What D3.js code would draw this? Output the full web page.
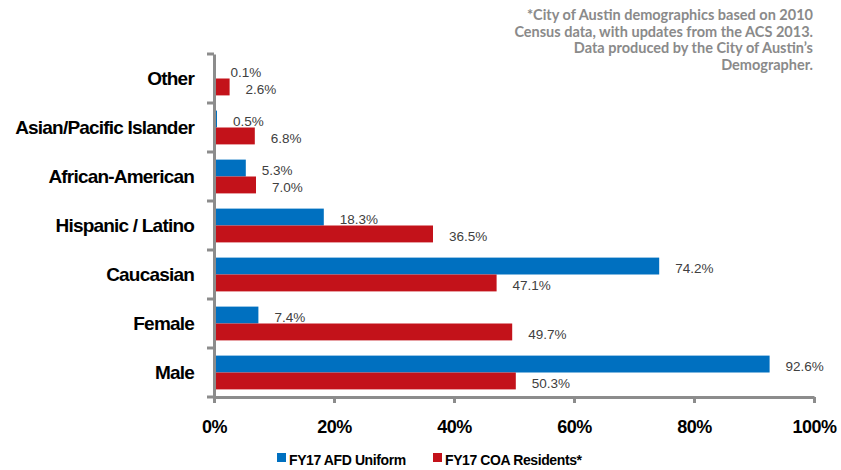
<!DOCTYPE html>
<html>
<head>
<meta charset="utf-8">
<script src="https://cdn.jsdelivr.net/npm/d3@7"></script>
<style>
  body { margin: 0; background: #fff; }
  svg { display: block; }
</style>
</head>
<body>
<svg width="841" height="470"></svg>
<script>

let categories = ['Other', 'Asian/Pacific Islander', 'African-American', 'Hispanic / Latino', 'Caucasian', 'Female', 'Male'];
let afdUniform = [0.1, 0.5, 5.3, 18.3, 74.2, 7.4, 92.6];
let coaResidents = [2.6, 6.8, 7.0, 36.5, 47.1, 49.7, 50.3];
let seriesNames = ['FY17 AFD Uniform', 'FY17 COA Residents*'];
let xTicks = [0, 20, 40, 60, 80, 100];
let footnote = ['*City of Austin demographics based on 2010', 'Census data, with updates from the ACS 2013.', 'Data produced by the City of Austin\u2019s', 'Demographer.'];

let svg = d3.select('svg');
let margin = { top: 54, right: 27, bottom: 73, left: 214 };
let width = +svg.attr('width');
let height = +svg.attr('height');

let colors = ['#0070c0', '#c3121a'];
let axisColor = '#8c8c8c';
let labelFont = '"Liberation Sans", Arial, sans-serif';

let x = d3.scaleLinear()
    .domain([0, 100])
    .range([margin.left, width - margin.right]);

let y = d3.scaleBand()
    .domain(categories)
    .range([margin.top, height - margin.bottom]);

let inner = d3.scaleBand()
    .domain([0, 1])
    .range([0, y.bandwidth()])
    .paddingOuter(0.45)
    .paddingInner(0);

let rows = categories.map((c, i) => ({ cat: c, vals: [afdUniform[i], coaResidents[i]] }));

let groups = svg.selectAll('g.row')
    .data(rows)
    .enter().append('g')
    .attr('class', 'row')
    .attr('transform', d => 'translate(0,' + y(d.cat) + ')');

groups.selectAll('rect')
    .data(d => d.vals)
    .enter().append('rect')
    .attr('x', x(0))
    .attr('y', (d, i) => inner(i))
    .attr('width', d => x(d) - x(0))
    .attr('height', inner.bandwidth())
    .style('fill', (d, i) => colors[i]);

groups.selectAll('text.val')
    .data(d => d.vals)
    .enter().append('text')
    .attr('class', 'val')
    .attr('x', d => x(d) + 16)
    .attr('y', (d, i) => inner(i) + inner.bandwidth() / 2 + 3)
    .attr('dominant-baseline', 'middle')
    .style('font-family', labelFont)
    .style('font-size', '13.5px')
    .style('fill', '#404040')
    .text(d => d.toFixed(1) + '%');

// y axis
let yAxis = svg.append('g')
    .attr('transform', 'translate(' + margin.left + ',0)')
    .call(d3.axisLeft(y).tickSize(0).tickPadding(20));
yAxis.select('.domain')
    .attr('stroke', axisColor)
    .attr('stroke-width', 3);
yAxis.selectAll('text')
    .style('font-family', labelFont)
    .style('font-weight', 'bold')
    .style('font-size', '19px')
    .style('letter-spacing', '-0.8px')
    .style('fill', '#000');
yAxis.selectAll('line.bound')
    .data(categories.concat(['end']))
    .enter().append('line')
    .attr('class', 'bound')
    .attr('x1', -7).attr('x2', 0)
    .attr('y1', (d, i) => margin.top + i * y.step())
    .attr('y2', (d, i) => margin.top + i * y.step())
    .attr('stroke', axisColor)
    .attr('stroke-width', 3);

// x axis
let xAxis = svg.append('g')
    .attr('transform', 'translate(0,' + (height - margin.bottom) + ')')
    .call(d3.axisBottom(x).tickValues(xTicks).tickSize(6).tickSizeOuter(0).tickPadding(17).tickFormat(d => d + '%'));
xAxis.select('.domain')
    .attr('stroke', axisColor)
    .attr('stroke-width', 3);
xAxis.selectAll('line')
    .attr('stroke', axisColor)
    .attr('stroke-width', 3);
xAxis.selectAll('text')
    .style('font-family', labelFont)
    .style('font-weight', 'bold')
    .style('font-size', '18px')
    .style('letter-spacing', '-0.5px')
    .style('fill', '#000');

// legend
let legendX = [277, 433];
let legend = svg.selectAll('g.legend')
    .data(seriesNames)
    .enter().append('g')
    .attr('class', 'legend')
    .attr('transform', (d, i) => 'translate(' + legendX[i] + ',453)');
legend.append('rect')
    .attr('width', 9)
    .attr('height', 9)
    .style('fill', (d, i) => colors[i]);
legend.append('text')
    .attr('x', 12)
    .attr('y', 12)
    .style('font-family', labelFont)
    .style('font-weight', 'bold')
    .style('font-size', '14px')
    .style('letter-spacing', '-0.4px')
    .style('fill', '#000')
    .text(d => d);

// footnote
svg.append('g')
    .selectAll('text')
    .data(footnote)
    .enter().append('text')
    .attr('x', 813)
    .attr('y', (d, i) => 20 + i * 16.7)
    .attr('text-anchor', 'end')
    .style('font-family', 'Lato, sans-serif')
    .style('font-weight', 'bold')
    .style('font-size', '14.5px')
    .style('fill', '#8a8a8a')
    .text(d => d);

</script>
</body>
</html>
